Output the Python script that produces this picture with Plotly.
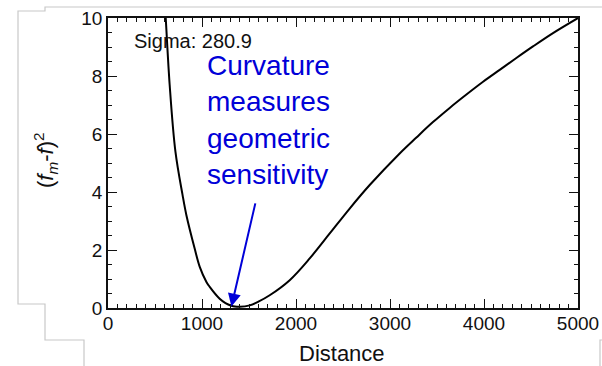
import plotly.graph_objects as go

# Data
distance = [595, 614, 656, 717, 793, 834, 922, 976, 1047, 1082, 1188, 1250, 1313, 1350,
            1401, 1507, 1600, 1720, 1933, 2146, 2359, 2571, 2784, 3103, 3281, 3457,
            3635, 3813, 3990, 4167, 4344, 4521, 4734, 5000]
misfit = [11.0, 10.0, 7.7, 5.4, 3.9, 3.20, 2.05, 1.42, 0.90, 0.73, 0.32, 0.17, 0.08, 0.05,
          0.04, 0.09, 0.22, 0.44, 0.96, 1.71, 2.57, 3.43, 4.24, 5.33, 5.88, 6.41,
          6.90, 7.36, 7.80, 8.21, 8.62, 9.02, 9.48, 10.0]
x_ticks = [0, 1000, 2000, 3000, 4000, 5000]
y_ticks = [0, 2, 4, 6, 8, 10]
sigma_label = "Sigma: 280.9"
note_lines = ["Curvature", "measures", "geometric", "sensitivity"]
arrow_tip = (1313, 0.05)
arrow_tail = (1571, 3.66)

W, H = 602, 366
L, R, T, B = 108, 578, 18, 308  # plot area pixel box


def px(xp):
    return (xp - L) / (R - L)


def py(yp):
    return (B - yp) / (B - T)


FONT = "Liberation Sans, Arial, sans-serif"
BLUE = "#0000d8"

fig = go.Figure()
fig.add_trace(go.Scatter(x=distance, y=misfit, mode="lines",
                         line=dict(color="black", width=2, shape="spline", smoothing=1.0),
                         hoverinfo="skip", showlegend=False))

axis_common = dict(showline=True, linecolor="#111", linewidth=1.5, mirror="allticks",
                   ticks="inside", ticklen=9, tickwidth=1, tickcolor="#111",
                   showgrid=False, zeroline=False, automargin=False,
                   tickfont=dict(family=FONT, size=19, color="#111"))
fig.update_xaxes(range=[0, 5000], tickvals=x_ticks, ticktext=[str(v) for v in x_ticks],
                 minor=dict(ticks="inside", ticklen=4, dtick=100, tickcolor="#111", tickwidth=1),
                 ticklabelstandoff=-3, **axis_common)
fig.update_yaxes(range=[0, 10], tickvals=y_ticks, ticktext=[str(v) for v in y_ticks],
                 minor=dict(ticks="inside", ticklen=4, dtick=0.5, tickcolor="#111", tickwidth=1),
                 **axis_common)

annotations = [
    dict(text=sigma_label, xref="paper", yref="paper", x=px(132), y=py(41),
         xanchor="left", yanchor="middle", showarrow=False,
         font=dict(family=FONT, size=20, color="#111")),
    dict(text="<br>".join(note_lines), xref="paper", yref="paper", x=px(205), y=py(120),
         xanchor="left", yanchor="middle", align="left", showarrow=False,
         font=dict(family=FONT, size=28, color=BLUE)),
    dict(text="", x=arrow_tip[0], y=arrow_tip[1], ax=arrow_tail[0], ay=arrow_tail[1],
         xref="x", yref="y", axref="x", ayref="y", showarrow=True,
         arrowhead=2, arrowsize=1.3, arrowwidth=2, arrowcolor=BLUE),
    dict(text="Distance", xref="paper", yref="paper", x=px(342), y=py(353),
         xanchor="center", yanchor="middle", showarrow=False,
         font=dict(family=FONT, size=22, color="#111")),
    dict(text="(<i>f</i><sub><i>m</i></sub>-<i>f</i>)<sup>2</sup>", xref="paper", yref="paper",
         x=px(45), y=py(160), xanchor="center", yanchor="middle", textangle=-90,
         showarrow=False, font=dict(family=FONT, size=22, color="#111")),
]

# light gray decoration lines around the chart (slide frame)
frame_paths = [
    [(602, 7), (45, 7), (45, 11), (18, 11), (18, 304), (45, 304), (45, 340), (84, 340), (84, 366)],
    [(602, 340), (600, 340), (600, 366)],
]
shapes = []
for path in frame_paths:
    d = "M " + " L ".join(f"{px(a):.5f},{py(b):.5f}" for a, b in path)
    shapes.append(dict(type="path", path=d, xref="paper", yref="paper",
                       line=dict(color="#c8c8c8", width=1.2), layer="below"))

fig.update_layout(width=W, height=H, margin=dict(l=L, r=W - R, t=T, b=H - B, pad=0),
                  paper_bgcolor="white", plot_bgcolor="white",
                  annotations=annotations, shapes=shapes, showlegend=False)
fig.write_html("out.html")
